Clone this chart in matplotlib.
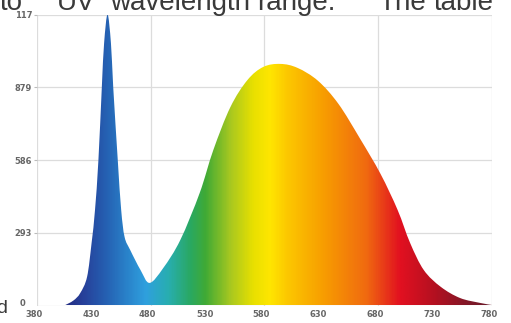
import numpy as np
import matplotlib
matplotlib.use("Agg")
import matplotlib.pyplot as plt
from matplotlib.colors import LinearSegmentedColormap
from matplotlib.transforms import offset_copy
from matplotlib.path import Path
from matplotlib.patches import PathPatch

# ---- data ----
wavelength = [404, 412, 418, 424, 428, 431, 434, 437, 439, 442, 445, 447, 451, 454,
              457, 462, 471, 479, 491, 506, 523, 535, 550, 565, 579, 594, 609, 627,
              645, 664, 682, 697, 708, 720, 735, 752, 770, 780]
intensity = [0, 20, 50, 115, 252, 385, 586, 880, 1057, 1172, 1057, 880, 586, 385,
             276, 223, 143, 91, 151, 264, 453, 626, 799, 908, 961, 973, 957, 905,
             812, 672, 530, 385, 252, 143, 75, 30, 10, 2]
x_ticks = [380, 430, 480, 530, 580, 630, 680, 730, 780]
x_tick_labels = ["380", "430", "480", "530", "580", "630", "680", "730", "780"]
y_ticks = [293, 586, 879, 1172]
y_tick_labels = ["293", "586", "879", "117"]
x_grid = [380, 480, 580, 680, 780]

# spectrum colour stops (wavelength, colour)
stop_wl = [380, 406, 420, 440, 460, 475, 495, 515, 528, 550, 570, 585, 600, 630,
           670, 700, 730, 760, 780]
stop_col = ["#202a78", "#232f85", "#27409a", "#2560b2", "#2a85cc", "#2fa0de",
            "#28aeb0", "#2aa860", "#40aa35", "#a8c820", "#e8e000", "#ffe600",
            "#fcc800", "#f8a000", "#f06a10", "#e21020", "#b41020", "#801828",
            "#6a1a2a"]

W, H = 511, 323
fig = plt.figure(figsize=(W / 100, H / 100), dpi=100)
fig.patch.set_facecolor("white")

left, right, top, bottom = 37, 492, 14.5, 305.5
ax = fig.add_axes([left / W, (H - bottom) / H, (right - left) / W, (bottom - top) / H])
ax.set_xlim(380, 780)
ax.set_ylim(0, 1172)

grid_c = "#dcdcdc"
for g in y_ticks:
    ax.axhline(g, color=grid_c, lw=0.9, zorder=0)
for g in x_grid:
    ax.axvline(g, color=grid_c, lw=0.9, zorder=0)

# smooth outline of the spectrum (Catmull-Rom drawn as cubic Bezier segments)
pts = list(zip(wavelength, intensity))
verts = [(wavelength[0], 0), pts[0]]
codes = [Path.MOVETO, Path.LINETO]
n = len(pts)
for i in range(n - 1):
    p0 = np.array(pts[max(i - 1, 0)], float)
    p1 = np.array(pts[i], float)
    p2 = np.array(pts[i + 1], float)
    p3 = np.array(pts[min(i + 2, n - 1)], float)
    c1 = p1 + (p2 - p0) / 6.0
    c2 = p2 - (p3 - p1) / 6.0
    verts += [tuple(c1), tuple(c2), tuple(p2)]
    codes += [Path.CURVE4] * 3
verts += [(wavelength[-1], 0), (wavelength[0], 0)]
codes += [Path.LINETO, Path.CLOSEPOLY]
outline = Path(verts, codes)
patch = PathPatch(outline, facecolor="none", edgecolor="none", transform=ax.transData)
ax.add_patch(patch)

pos = [(w - 380) / 400 for w in stop_wl]
cmap = LinearSegmentedColormap.from_list("spec", list(zip(pos, stop_col)))
grad = np.linspace(0, 1, 600).reshape(1, -1)
im = ax.imshow(grad, cmap=cmap, aspect="auto", extent=[380, 780, 0, 1172],
               origin="lower", zorder=2, interpolation="bilinear")
im.set_clip_path(patch)

for s in ax.spines.values():
    s.set_visible(False)
ax.axhline(0, color=grid_c, lw=0.9, zorder=1)

ax.set_xticks(x_ticks)
ax.set_xticklabels(x_tick_labels)
ax.set_yticks(y_ticks)
ax.set_yticklabels(y_tick_labels)
ax.tick_params(axis="x", length=0, pad=3, labelsize=6, labelcolor="#666666")
ax.tick_params(axis="y", length=2, color="#bbbbbb", pad=1.5, labelsize=6,
               labelcolor="#666666")
for lab in ax.get_xticklabels():
    lab.set_transform(offset_copy(lab.get_transform(), fig=fig, x=-3, y=0, units="dots"))
    lab.set_fontweight("bold")
for lab in ax.get_yticklabels():
    lab.set_fontweight("bold")

fig.text(23 / W, 1 - 303 / H, "0", fontsize=6, color="#666666", fontweight="bold",
         ha="center", va="center")

# cropped surrounding document text
words = [("to", 0), ("UV", 57), ("wavelength", 110), ("range.", 257),
         ("The", 378), ("table", 434)]
for w, xp in words:
    fig.text(xp / W, 1 - 10 / H, w, fontsize=20, color="#3a3a3a",
             family="Liberation Sans", ha="left", va="baseline")
fig.text(-4 / W, 1 - 313 / H, "d", fontsize=14, color="#3a3a3a",
         family="Liberation Sans", ha="left", va="baseline")

fig.savefig("out.png", dpi=100)
